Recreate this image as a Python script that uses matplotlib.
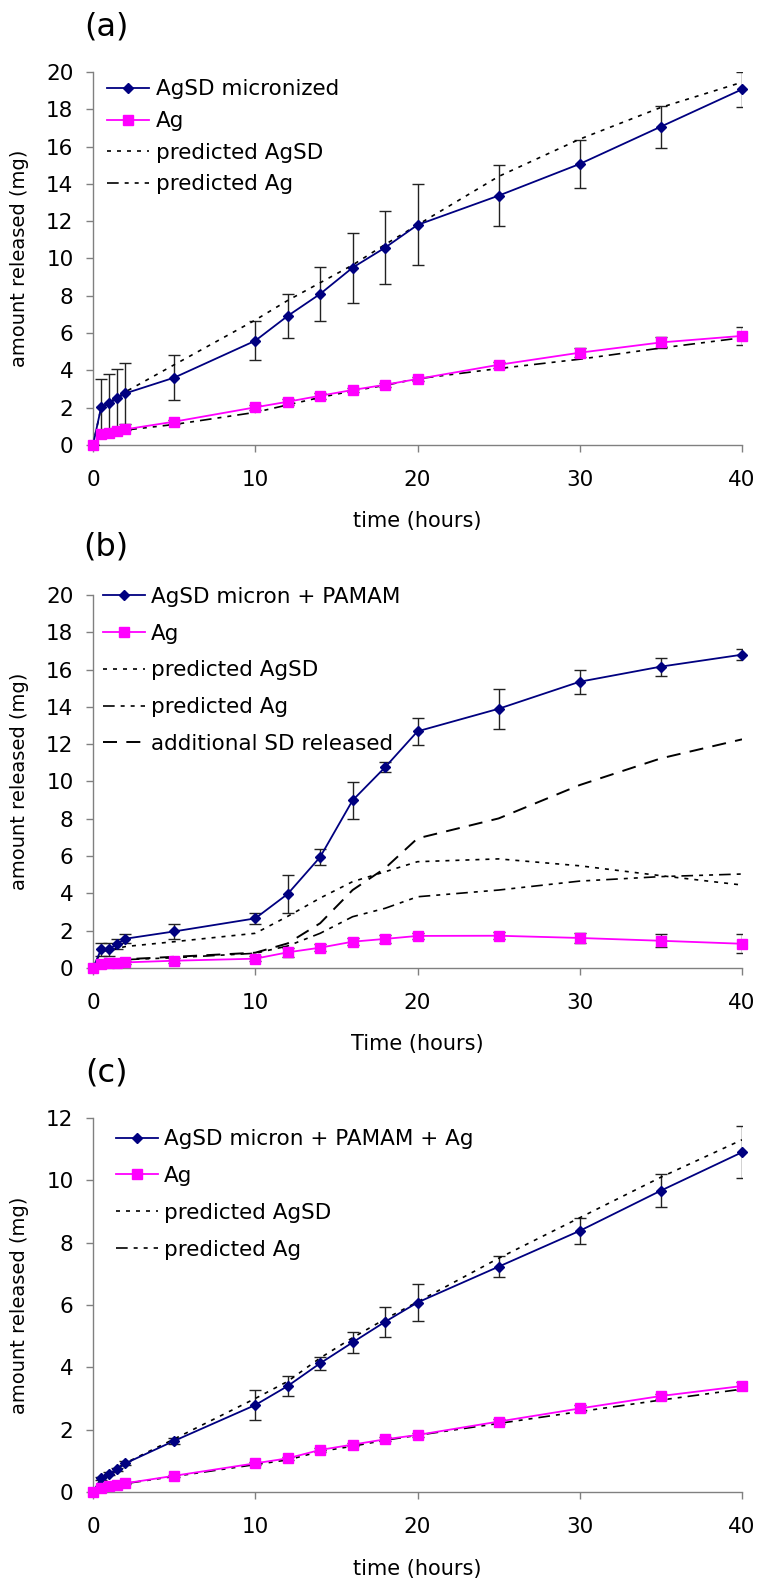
import matplotlib
matplotlib.use("Agg")
import matplotlib.pyplot as plt
import numpy as np

plt.rcParams['font.family'] = ['DejaVu Sans']

# sampling times (hours), same for every series
t = [0, 0.5, 1, 1.5, 2, 5, 10, 12, 14, 16, 18, 20, 25, 30, 35, 40]

# (a) AgSD micronized
a_agsd = [0, 2.02, 2.23, 2.50, 2.77, 3.61, 5.59, 6.92, 8.10, 9.51, 10.58, 11.80, 13.37, 15.07, 17.07, 19.07]
a_agsd_err = [0, 1.5, 1.6, 1.6, 1.62, 1.2, 1.05, 1.16, 1.43, 1.88, 1.95, 2.17, 1.64, 1.27, 1.12, 0.94]
a_ag = [0, 0.59, 0.66, 0.77, 0.84, 1.25, 2.02, 2.32, 2.64, 2.95, 3.23, 3.54, 4.30, 4.95, 5.50, 5.85]
a_ag_err = [0, 0.05, 0.05, 0.05, 0.05, 0.1, 0.15, 0.15, 0.15, 0.12, 0.12, 0.12, 0.15, 0.25, 0.3, 0.5]
a_pred_agsd = [0, 2.0, 2.3, 2.55, 2.85, 4.3, 6.7, 7.75, 8.7, 9.65, 10.75, 11.8, 14.4, 16.4, 18.1, 19.45]
a_pred_ag = [0, 0.55, 0.62, 0.72, 0.8, 1.1, 1.75, 2.15, 2.55, 2.9, 3.2, 3.55, 4.1, 4.6, 5.2, 5.75]

# (b) AgSD micron + PAMAM
b_agsd = [0, 1.0, 1.0, 1.30, 1.57, 1.96, 2.66, 3.97, 5.95, 8.99, 10.76, 12.69, 13.9, 15.35, 16.16, 16.80]
b_agsd_err = [0, 0.36, 0.36, 0.27, 0.25, 0.4, 0.3, 1.02, 0.45, 0.98, 0.27, 0.73, 1.07, 0.65, 0.48, 0.3]
b_ag = [0, 0.2, 0.25, 0.27, 0.3, 0.39, 0.5, 0.84, 1.09, 1.41, 1.56, 1.72, 1.73, 1.61, 1.46, 1.30]
b_ag_err = [0, 0.1, 0.1, 0.1, 0.1, 0.12, 0.15, 0.25, 0.2, 0.2, 0.2, 0.15, 0.2, 0.28, 0.36, 0.5]
b_pred_agsd = [0, 0.9, 0.95, 1.05, 1.15, 1.41, 1.86, 2.77, 3.75, 4.63, 5.16, 5.7, 5.85, 5.48, 4.95, 4.45]
b_pred_ag = [0, 0.4, 0.42, 0.43, 0.45, 0.55, 0.79, 1.18, 1.86, 2.75, 3.2, 3.82, 4.18, 4.66, 4.9, 5.04]
b_add_sd = [0, 0.42, 0.44, 0.45, 0.47, 0.6, 0.82, 1.32, 2.4, 4.18, 5.35, 6.95, 8.02, 9.81, 11.24, 12.26]

# (c) AgSD micron + PAMAM + Ag
c_agsd = [0, 0.44, 0.58, 0.73, 0.92, 1.64, 2.79, 3.40, 4.13, 4.80, 5.46, 6.08, 7.23, 8.38, 9.67, 10.9]
c_agsd_err = [0, 0.05, 0.05, 0.05, 0.06, 0.1, 0.48, 0.33, 0.2, 0.34, 0.48, 0.59, 0.34, 0.42, 0.53, 0.83]
c_ag = [0, 0.12, 0.18, 0.24, 0.28, 0.52, 0.92, 1.08, 1.35, 1.52, 1.69, 1.83, 2.26, 2.68, 3.08, 3.40]
c_ag_err = [0, 0.02, 0.02, 0.02, 0.03, 0.04, 0.05, 0.05, 0.06, 0.06, 0.06, 0.06, 0.07, 0.1, 0.08, 0.12]
c_pred_agsd = [0, 0.42, 0.58, 0.75, 0.93, 1.7, 3.0, 3.55, 4.3, 4.95, 5.55, 6.1, 7.5, 8.8, 10.1, 11.3]
c_pred_ag = [0, 0.1, 0.16, 0.21, 0.27, 0.5, 0.88, 1.03, 1.3, 1.47, 1.66, 1.82, 2.2, 2.58, 2.95, 3.3]

NAVY = '#000080'
PINK = '#FF00FF'
GREY = '#808080'
DOT = (0, (2.4, 3.6))
DASHDOTDOT = (0, (7, 3.6, 2.4, 3.6, 2.4, 3.6))
LONGDASH = (0, (7.2, 4.8))

FS_TICK = 15.5
FS_LEG = 15.5

W, H = 757, 1583
fig = plt.figure(figsize=(W / 100, H / 100), dpi=100)


def px_axes(left, top, right, bottom):
    return fig.add_axes([left / W, 1 - bottom / H, (right - left) / W, (bottom - top) / H])


def style(ax, ymax, xlabel):
    ax.set_xlim(0, 40)
    ax.set_ylim(0, ymax)
    ax.set_xticks([0, 10, 20, 30, 40])
    ax.set_yticks(np.arange(0, ymax + 1, 2))
    for s in ['top', 'right']:
        ax.spines[s].set_visible(False)
    for s in ['left', 'bottom']:
        ax.spines[s].set_color(GREY)
        ax.spines[s].set_linewidth(1.0)
    ax.tick_params(axis='both', direction='out', length=5, width=1, color=GREY,
                   labelsize=FS_TICK, labelcolor='black')
    ax.tick_params(axis='y', pad=9)
    ax.tick_params(axis='x', pad=13)
    ax.set_ylabel('amount released (mg)', fontsize=14)
    ax.yaxis.set_label_coords(-0.098, 0.5)
    ax.set_xlabel(xlabel, fontsize=15)
    ax.xaxis.set_label_coords(0.5, -0.178)


def draw_measured(ax, y, yerr, ag, ag_err, label):
    ax.errorbar(t, y, yerr=yerr, fmt='none', ecolor='#222222', elinewidth=1,
                capsize=4, capthick=1, zorder=3)
    ax.errorbar(t, ag, yerr=ag_err, fmt='none', ecolor='#222222', elinewidth=1,
                capsize=4, capthick=1, zorder=3)
    ax.plot(t, y, color=NAVY, lw=1.3, marker='D', ms=5.5, label=label,
            zorder=5, clip_on=False)
    ax.plot(t, ag, color=PINK, lw=1.3, marker='s', ms=7.5, label='Ag',
            zorder=5, clip_on=False)


def legend(ax, x, y, spacing):
    ax.legend(loc='upper left', bbox_to_anchor=(x, y), frameon=False, fontsize=FS_LEG,
              borderpad=0, borderaxespad=0, handlelength=1.95, handletextpad=0.3,
              labelspacing=spacing)


# ---- (a)
ax1 = px_axes(93, 72, 742, 445)
draw_measured(ax1, a_agsd, a_agsd_err, a_ag, a_ag_err, 'AgSD micronized')
ax1.plot(t, a_pred_agsd, color='k', lw=1.2, ls=DOT, label='predicted AgSD', zorder=4)
ax1.plot(t, a_pred_ag, color='k', lw=1.2, ls=DASHDOTDOT, label='predicted Ag', zorder=4)
style(ax1, 20, 'time (hours)')
legend(ax1, 0.022, 0.98, 0.54)

# ---- (b)
ax2 = px_axes(93, 595, 742, 968)
draw_measured(ax2, b_agsd, b_agsd_err, b_ag, b_ag_err, 'AgSD micron + PAMAM')
ax2.plot(t, b_pred_agsd, color='k', lw=1.2, ls=DOT, label='predicted AgSD', zorder=4)
ax2.plot(t, b_pred_ag, color='k', lw=1.2, ls=DASHDOTDOT, label='predicted Ag', zorder=4)
ax2.plot(t, b_add_sd, color='k', lw=1.4, ls=LONGDASH, label='additional SD released', zorder=4)
style(ax2, 20, 'Time (hours)')
legend(ax2, 0.015, 1.022, 0.78)

# ---- (c)
ax3 = px_axes(93, 1118, 742, 1492)
draw_measured(ax3, c_agsd, c_agsd_err, c_ag, c_ag_err, 'AgSD micron + PAMAM + Ag')
ax3.plot(t, c_pred_agsd, color='k', lw=1.2, ls=DOT, label='predicted AgSD', zorder=4)
ax3.plot(t, c_pred_ag, color='k', lw=1.2, ls=DASHDOTDOT, label='predicted Ag', zorder=4)
style(ax3, 12, 'time (hours)')
legend(ax3, 0.035, 0.97, 0.78)

# panel letters
for lab, ypx in [('(a)', 27), ('(b)', 547), ('(c)', 1073)]:
    fig.text(106 / W, 1 - ypx / H, lab, fontsize=23, ha='center', va='center')

fig.savefig('out.png', dpi=100)
